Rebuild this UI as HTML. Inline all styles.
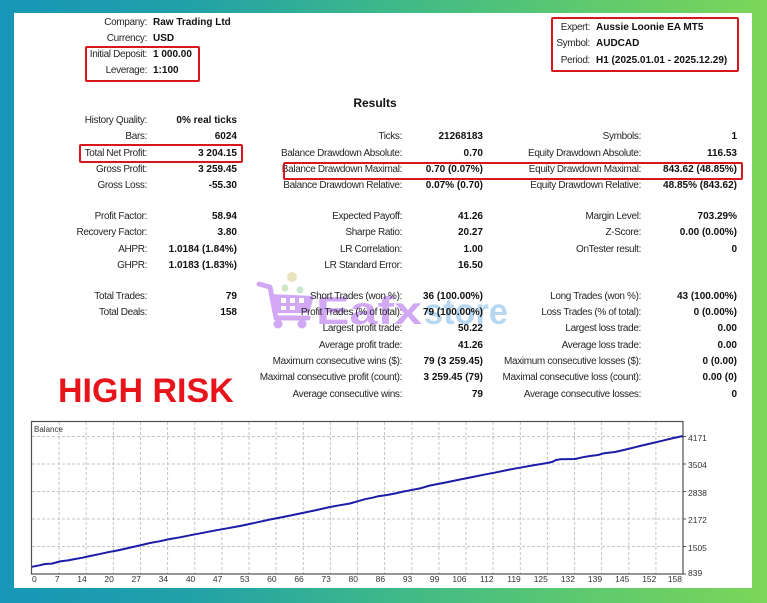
<!DOCTYPE html>
<html>
<head>
<meta charset="utf-8">
<style>
  html,body{margin:0;padding:0;}
  body{width:767px;height:603px;position:relative;overflow:hidden;
    background:linear-gradient(90deg,#1796b8 0%,#22a1a8 25%,#3db88a 50%,#5cc870 75%,#7cd658 100%);
    font-family:"Liberation Sans",Arial,sans-serif;}
  #panel{position:absolute;left:14px;top:13px;width:738px;height:575px;background:#fff;}
  .t{position:absolute;font-size:10px;line-height:12px;white-space:nowrap;}
  .l{width:300px;text-align:right;color:#262626;letter-spacing:-0.35px;}
  .v{width:200px;text-align:right;color:#111;font-weight:bold;}
  .vl{color:#111;font-weight:bold;}
  .box{position:absolute;border:2px solid #d8161e;border-radius:2px;box-sizing:border-box;}
  .xl{position:absolute;top:574px;font-size:8.5px;line-height:10px;color:#333;width:30px;text-align:right;}
  .yl{position:absolute;left:688px;font-size:8.5px;line-height:10px;color:#333;}
</style>
</head>
<body>
<div id="panel"></div>

<!-- Header left -->
<div class="t l" style="left:-153px;top:17px">Company:</div>
<div class="t vl" style="left:153px;top:17px">Raw Trading Ltd</div>
<div class="t l" style="left:-153px;top:33px">Currency:</div>
<div class="t vl" style="left:153px;top:33px">USD</div>
<div class="t l" style="left:-153px;top:49px">Initial Deposit:</div>
<div class="t vl" style="left:153px;top:49px">1 000.00</div>
<div class="t l" style="left:-153px;top:65px">Leverage:</div>
<div class="t vl" style="left:153px;top:65px">1:100</div>
<div class="box" style="left:85px;top:46px;width:115px;height:36px"></div>

<!-- Header right -->
<div class="t l" style="left:290px;top:22px">Expert:</div>
<div class="t vl" style="left:596px;top:22px">Aussie Loonie EA MT5</div>
<div class="t l" style="left:290px;top:38px">Symbol:</div>
<div class="t vl" style="left:596px;top:38px">AUDCAD</div>
<div class="t l" style="left:290px;top:55px">Period:</div>
<div class="t vl" style="left:596px;top:55px">H1 (2025.01.01 - 2025.12.29)</div>
<div class="box" style="left:551px;top:17px;width:188px;height:55px"></div>

<!-- Results title -->
<div class="t" style="left:325px;top:95px;width:100px;text-align:center;font-size:12px;line-height:16px;font-weight:bold;color:#111">Results</div>

<!-- Section 1 -->
<div class="t l" style="left:-153px;top:115px">History Quality:</div>
<div class="t v" style="left:37px;top:115px">0% real ticks</div>
<div class="t l" style="left:-153px;top:131px">Bars:</div>
<div class="t v" style="left:37px;top:131px">6024</div>
<div class="t l" style="left:-153px;top:147.5px">Total Net Profit:</div>
<div class="t v" style="left:37px;top:147.5px">3 204.15</div>
<div class="t l" style="left:-153px;top:164px">Gross Profit:</div>
<div class="t v" style="left:37px;top:164px">3 259.45</div>
<div class="t l" style="left:-153px;top:180.3px">Gross Loss:</div>
<div class="t v" style="left:37px;top:180.3px">-55.30</div>

<div class="t l" style="left:102px;top:131px">Ticks:</div>
<div class="t v" style="left:283px;top:131px">21268183</div>
<div class="t l" style="left:102px;top:147.5px">Balance Drawdown Absolute:</div>
<div class="t v" style="left:283px;top:147.5px">0.70</div>
<div class="t l" style="left:102px;top:164px">Balance Drawdown Maximal:</div>
<div class="t v" style="left:283px;top:164px">0.70 (0.07%)</div>
<div class="t l" style="left:102px;top:180.3px">Balance Drawdown Relative:</div>
<div class="t v" style="left:283px;top:180.3px">0.07% (0.70)</div>

<div class="t l" style="left:341px;top:131px">Symbols:</div>
<div class="t v" style="left:537px;top:131px">1</div>
<div class="t l" style="left:341px;top:147.5px">Equity Drawdown Absolute:</div>
<div class="t v" style="left:537px;top:147.5px">116.53</div>
<div class="t l" style="left:341px;top:164px">Equity Drawdown Maximal:</div>
<div class="t v" style="left:537px;top:164px">843.62 (48.85%)</div>
<div class="t l" style="left:341px;top:180.3px">Equity Drawdown Relative:</div>
<div class="t v" style="left:537px;top:180.3px">48.85% (843.62)</div>

<div class="box" style="left:79px;top:144px;width:164px;height:19px"></div>
<div class="box" style="left:283px;top:162px;width:460px;height:18px"></div>

<!-- Section 2 -->
<div class="t l" style="left:-153px;top:210.7px">Profit Factor:</div>
<div class="t v" style="left:37px;top:210.7px">58.94</div>
<div class="t l" style="left:-153px;top:227.3px">Recovery Factor:</div>
<div class="t v" style="left:37px;top:227.3px">3.80</div>
<div class="t l" style="left:-153px;top:243.7px">AHPR:</div>
<div class="t v" style="left:37px;top:243.7px">1.0184 (1.84%)</div>
<div class="t l" style="left:-153px;top:260px">GHPR:</div>
<div class="t v" style="left:37px;top:260px">1.0183 (1.83%)</div>

<div class="t l" style="left:102px;top:210.7px">Expected Payoff:</div>
<div class="t v" style="left:283px;top:210.7px">41.26</div>
<div class="t l" style="left:102px;top:227.3px">Sharpe Ratio:</div>
<div class="t v" style="left:283px;top:227.3px">20.27</div>
<div class="t l" style="left:102px;top:243.7px">LR Correlation:</div>
<div class="t v" style="left:283px;top:243.7px">1.00</div>
<div class="t l" style="left:102px;top:260px">LR Standard Error:</div>
<div class="t v" style="left:283px;top:260px">16.50</div>

<div class="t l" style="left:341px;top:210.7px">Margin Level:</div>
<div class="t v" style="left:537px;top:210.7px">703.29%</div>
<div class="t l" style="left:341px;top:227.3px">Z-Score:</div>
<div class="t v" style="left:537px;top:227.3px">0.00 (0.00%)</div>
<div class="t l" style="left:341px;top:243.7px">OnTester result:</div>
<div class="t v" style="left:537px;top:243.7px">0</div>

<!-- Watermark -->
<svg style="position:absolute;left:0;top:0" width="767" height="603">
  <g opacity="0.6">
    <circle cx="292" cy="277" r="5" fill="#d9cf95"/>
    <circle cx="285" cy="288" r="3.5" fill="#b0d6a0"/>
    <circle cx="300" cy="290" r="3.5" fill="#a8d4b8"/>
    <path d="M259 284 L270 287 L276 318 L308 318" fill="none" stroke="#b56ff0" stroke-width="5" stroke-linecap="round" stroke-linejoin="round"/>
    <path d="M270 294 L314 296 L309 313 L275 313 Z" fill="#b56ff0"/>
    <rect x="281" y="298" width="5" height="5" fill="#fff"/>
    <rect x="290" y="298" width="5" height="5" fill="#fff"/>
    <rect x="299" y="298" width="5" height="5" fill="#fff"/>
    <rect x="281" y="306" width="5" height="4" fill="#fff"/>
    <rect x="290" y="306" width="5" height="4" fill="#fff"/>
    <circle cx="278" cy="324" r="4.5" fill="#b56ff0"/>
    <circle cx="302" cy="324" r="4.5" fill="#b56ff0"/>
    <text x="316" y="324" font-family="Liberation Sans, sans-serif" font-weight="bold" font-size="39" fill="#b56ff0" textLength="106" lengthAdjust="spacingAndGlyphs">Eafx</text>
    <text x="424" y="324" font-family="Liberation Sans, sans-serif" font-weight="bold" font-size="37" fill="#86bde6" textLength="84" lengthAdjust="spacingAndGlyphs">store</text>
  </g>
</svg>

<!-- Section 3 -->
<div class="t l" style="left:-153px;top:290.7px">Total Trades:</div>
<div class="t v" style="left:37px;top:290.7px">79</div>
<div class="t l" style="left:-153px;top:307px">Total Deals:</div>
<div class="t v" style="left:37px;top:307px">158</div>

<div class="t l" style="left:102px;top:290.7px">Short Trades (won %):</div>
<div class="t v" style="left:283px;top:290.7px">36 (100.00%)</div>
<div class="t l" style="left:102px;top:307px">Profit Trades (% of total):</div>
<div class="t v" style="left:283px;top:307px">79 (100.00%)</div>
<div class="t l" style="left:102px;top:323.3px">Largest profit trade:</div>
<div class="t v" style="left:283px;top:323.3px">50.22</div>
<div class="t l" style="left:102px;top:339.7px">Average profit trade:</div>
<div class="t v" style="left:283px;top:339.7px">41.26</div>
<div class="t l" style="left:102px;top:356px">Maximum consecutive wins ($):</div>
<div class="t v" style="left:283px;top:356px">79 (3 259.45)</div>
<div class="t l" style="left:102px;top:372.3px">Maximal consecutive profit (count):</div>
<div class="t v" style="left:283px;top:372.3px">3 259.45 (79)</div>
<div class="t l" style="left:102px;top:388.7px">Average consecutive wins:</div>
<div class="t v" style="left:283px;top:388.7px">79</div>

<div class="t l" style="left:341px;top:290.7px">Long Trades (won %):</div>
<div class="t v" style="left:537px;top:290.7px">43 (100.00%)</div>
<div class="t l" style="left:341px;top:307px">Loss Trades (% of total):</div>
<div class="t v" style="left:537px;top:307px">0 (0.00%)</div>
<div class="t l" style="left:341px;top:323.3px">Largest loss trade:</div>
<div class="t v" style="left:537px;top:323.3px">0.00</div>
<div class="t l" style="left:341px;top:339.7px">Average loss trade:</div>
<div class="t v" style="left:537px;top:339.7px">0.00</div>
<div class="t l" style="left:341px;top:356px">Maximum consecutive losses ($):</div>
<div class="t v" style="left:537px;top:356px">0 (0.00)</div>
<div class="t l" style="left:341px;top:372.3px">Maximal consecutive loss (count):</div>
<div class="t v" style="left:537px;top:372.3px">0.00 (0)</div>
<div class="t l" style="left:341px;top:388.7px">Average consecutive losses:</div>
<div class="t v" style="left:537px;top:388.7px">0</div>

<!-- HIGH RISK -->
<div style="position:absolute;left:58px;top:373.8px;font-size:34px;line-height:34px;font-weight:bold;color:#e8141c;white-space:nowrap;font-family:'Liberation Sans',Arial,sans-serif">HIGH RISK</div>

<!-- Chart -->
<svg style="position:absolute;left:0;top:0" width="767" height="603">
  <g stroke="#c4c4c4" stroke-width="1" stroke-dasharray="3,2" fill="none">
    <line x1="32" y1="436.5" x2="683" y2="436.5"/>
    <line x1="32" y1="464" x2="683" y2="464"/>
    <line x1="32" y1="491.5" x2="683" y2="491.5"/>
    <line x1="32" y1="519" x2="683" y2="519"/>
    <line x1="32" y1="546.5" x2="683" y2="546.5"/>
    <line x1="59.1" y1="422" x2="59.1" y2="574"/>
    <line x1="86.2" y1="422" x2="86.2" y2="574"/>
    <line x1="113.4" y1="422" x2="113.4" y2="574"/>
    <line x1="140.5" y1="422" x2="140.5" y2="574"/>
    <line x1="167.6" y1="422" x2="167.6" y2="574"/>
    <line x1="194.8" y1="422" x2="194.8" y2="574"/>
    <line x1="221.9" y1="422" x2="221.9" y2="574"/>
    <line x1="249" y1="422" x2="249" y2="574"/>
    <line x1="276.1" y1="422" x2="276.1" y2="574"/>
    <line x1="303.3" y1="422" x2="303.3" y2="574"/>
    <line x1="330.4" y1="422" x2="330.4" y2="574"/>
    <line x1="357.5" y1="422" x2="357.5" y2="574"/>
    <line x1="384.6" y1="422" x2="384.6" y2="574"/>
    <line x1="411.8" y1="422" x2="411.8" y2="574"/>
    <line x1="438.9" y1="422" x2="438.9" y2="574"/>
    <line x1="466" y1="422" x2="466" y2="574"/>
    <line x1="493.1" y1="422" x2="493.1" y2="574"/>
    <line x1="520.3" y1="422" x2="520.3" y2="574"/>
    <line x1="547.4" y1="422" x2="547.4" y2="574"/>
    <line x1="574.5" y1="422" x2="574.5" y2="574"/>
    <line x1="601.6" y1="422" x2="601.6" y2="574"/>
    <line x1="628.8" y1="422" x2="628.8" y2="574"/>
    <line x1="655.9" y1="422" x2="655.9" y2="574"/>
  </g>
  <rect x="31.5" y="421.5" width="651.5" height="152.5" fill="none" stroke="#505050" stroke-width="1.2"/>
  <g stroke="#505050" stroke-width="1">
    <line x1="683" y1="436.5" x2="686" y2="436.5"/>
    <line x1="683" y1="464" x2="686" y2="464"/>
    <line x1="683" y1="491.5" x2="686" y2="491.5"/>
    <line x1="683" y1="519" x2="686" y2="519"/>
    <line x1="683" y1="546.5" x2="686" y2="546.5"/>
    <line x1="683" y1="574" x2="686" y2="574"/>
  </g>
  <polyline fill="none" stroke="#1c1ca8" stroke-width="2" stroke-linejoin="round"
    points="32,566.8 40,565.2 45,564 52,563.6 60,561.4 68,560.4 75,559 82,557.8 90,556 99,554.2 108,552.2 118,550.4 130,547.6 140,545.4 150,543 160,541.2 170,539 180,537.3 190,535.3 203,532.8 216,530.3 228,528.2 240,526 255,522.8 270,519.5 285,516.6 300,513.5 315,510.4 330,507 340,505.2 350,503.5 358,501.2 365,499.2 372,497.8 378,496.3 387,495 395,493.5 403,491.6 410,490.3 420,488.4 430,485.5 445,482.6 460,479.5 472,477.1 484,474.7 497,472.2 510,469.5 522,467.3 535,465 545,463.4 552,462 556,460 560,459.3 575,459 583,457.2 590,456 598,455 604,453.3 615,452 628,449 640,446 650,443.6 662,440.8 672,438.4 683,436"/>
  <text x="34" y="432" font-family="Liberation Sans, sans-serif" font-size="8" fill="#333">Balance</text>
</svg>

<div class="yl" style="top:433px">4171</div>
<div class="yl" style="top:460px">3504</div>
<div class="yl" style="top:487.5px">2838</div>
<div class="yl" style="top:515px">2172</div>
<div class="yl" style="top:542.5px">1505</div>
<div class="yl" style="top:568px">839</div>

<div class="xl" style="left:32px;text-align:left">0</div>
<div class="xl" style="left:29.6px">7</div>
<div class="xl" style="left:56.7px">14</div>
<div class="xl" style="left:83.9px">20</div>
<div class="xl" style="left:111px">27</div>
<div class="xl" style="left:138.1px">34</div>
<div class="xl" style="left:165.3px">40</div>
<div class="xl" style="left:192.4px">47</div>
<div class="xl" style="left:219.5px">53</div>
<div class="xl" style="left:246.6px">60</div>
<div class="xl" style="left:273.8px">66</div>
<div class="xl" style="left:300.9px">73</div>
<div class="xl" style="left:328px">80</div>
<div class="xl" style="left:355.1px">86</div>
<div class="xl" style="left:382.3px">93</div>
<div class="xl" style="left:409.4px">99</div>
<div class="xl" style="left:436.5px">106</div>
<div class="xl" style="left:463.6px">112</div>
<div class="xl" style="left:490.8px">119</div>
<div class="xl" style="left:517.9px">125</div>
<div class="xl" style="left:545px">132</div>
<div class="xl" style="left:572.1px">139</div>
<div class="xl" style="left:599.3px">145</div>
<div class="xl" style="left:626.4px">152</div>
<div class="xl" style="left:652px">158</div>

</body>
</html>
